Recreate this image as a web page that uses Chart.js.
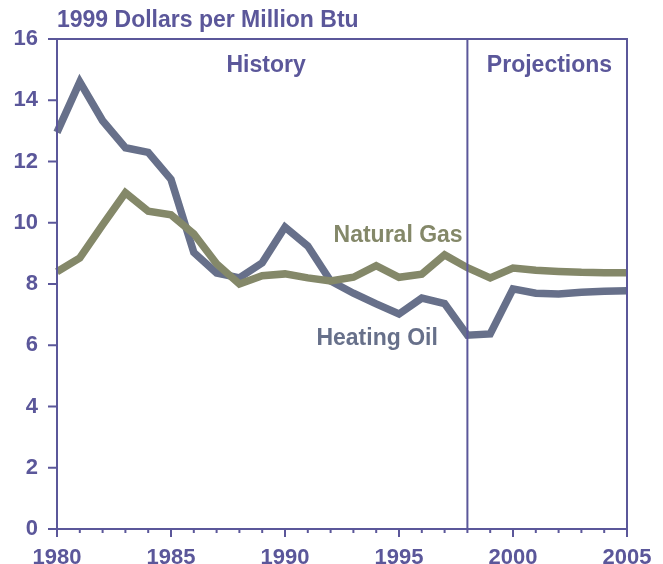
<!DOCTYPE html>
<html>
<head>
<meta charset="utf-8">
<script src="https://cdn.jsdelivr.net/npm/chart.js@4/dist/chart.umd.min.js"></script>
<style>
html,body{margin:0;padding:0;background:#fff;}
#wrap{width:663px;height:564px;position:relative;}
</style>
</head>
<body>
<div id="wrap"><canvas id="c" width="663" height="564"></canvas></div>
<script>
const years = [1980,1981,1982,1983,1984,1985,1986,1987,1988,1989,1990,1991,1992,1993,1994,1995,1996,1997,1998,1999,2000,2001,2002,2003,2004,2005];
const heatingOil = [12.95,14.6,13.33,12.45,12.3,11.42,9.03,8.36,8.2,8.69,9.86,9.24,8.1,7.7,7.35,7.02,7.54,7.36,6.33,6.37,7.84,7.7,7.67,7.73,7.76,7.78];
const naturalGas = [8.4,8.85,9.93,10.98,10.38,10.26,9.64,8.66,8.0,8.27,8.33,8.2,8.1,8.22,8.6,8.22,8.32,8.95,8.53,8.2,8.52,8.45,8.41,8.38,8.37,8.37];
const yTicks = [0,2,4,6,8,10,12,14,16];
const xTickLabels = [1980,1985,1990,1995,2000,2005];
const dividerYear = 1998;
const unitLabel = "1999 Dollars per Million Btu";
const periodLabels = [{text:"History", x:1989.17, y:15.12}, {text:"Projections", x:2001.6, y:15.12}];
const seriesLabels = [{text:"Natural Gas", x:1994.96, y:9.57, color:"#848869"}, {text:"Heating Oil", x:1994.04, y:6.21, color:"#67708a"}];

const AX = "#5b579a";
const FONT = "'Liberation Sans', Arial, sans-serif";

const overlay = {
  id: 'overlay',
  afterDraw(chart) {
    const ctx = chart.ctx, xs = chart.scales.x, ys = chart.scales.y, a = chart.chartArea;
    ctx.save();
    ctx.strokeStyle = AX; ctx.lineWidth = 2;
    ctx.beginPath();
    ctx.moveTo(a.left, a.top); ctx.lineTo(a.right, a.top); ctx.lineTo(a.right, a.bottom);
    ctx.stroke();
    ctx.beginPath();
    ctx.moveTo(a.left, a.top); ctx.lineTo(a.left, a.bottom); ctx.lineTo(a.right, a.bottom);
    ctx.stroke();
    const dx = xs.getPixelForValue(dividerYear);
    ctx.beginPath(); ctx.moveTo(dx, a.top); ctx.lineTo(dx, a.bottom); ctx.stroke();
    for (let yr = years[0]; yr <= years[years.length-1]; yr++) {
      const px = xs.getPixelForValue(yr);
      const len = (yr % 5 === 0) ? 8 : 4;
      ctx.beginPath(); ctx.moveTo(px, a.bottom); ctx.lineTo(px, a.bottom + len); ctx.stroke();
    }
    yTicks.forEach(v => {
      const py = ys.getPixelForValue(v);
      ctx.beginPath(); ctx.moveTo(a.left - 9, py); ctx.lineTo(a.left, py); ctx.stroke();
    });
    ctx.fillStyle = AX;
    ctx.font = "bold 22px " + FONT;
    ctx.textAlign = 'center'; ctx.textBaseline = 'alphabetic';
    xTickLabels.forEach(v => ctx.fillText(String(v), xs.getPixelForValue(v), 564));
    ctx.font = "bold 23px " + FONT;
    ctx.textAlign = 'left'; ctx.textBaseline = 'alphabetic';
    ctx.fillText(unitLabel, a.left, 27);
    ctx.textAlign = 'center'; ctx.textBaseline = 'middle';
    periodLabels.forEach(l => ctx.fillText(l.text, xs.getPixelForValue(l.x), ys.getPixelForValue(l.y)));
    seriesLabels.forEach(l => {
      ctx.fillStyle = l.color;
      ctx.fillText(l.text, xs.getPixelForValue(l.x), ys.getPixelForValue(l.y));
    });
    ctx.restore();
  }
};

new Chart(document.getElementById('c'), {
  type: 'line',
  data: {
    datasets: [
      {label:'Natural Gas', data: years.map((y,i)=>({x:y, y:naturalGas[i]})), borderColor:'#848869', borderWidth:7.5, pointRadius:0, tension:0, borderJoinStyle:'miter', borderCapStyle:'butt'},
      {label:'Heating Oil', data: years.map((y,i)=>({x:y, y:heatingOil[i]})), borderColor:'#67708a', borderWidth:7.5, pointRadius:0, tension:0, borderJoinStyle:'miter', borderCapStyle:'butt'}
    ]
  },
  options: {
    responsive: false,
    animation: false,
    clip: false,
    layout: {padding: {top: 39, right: 36, left: 0, bottom: 0}},
    plugins: {legend: {display:false}, tooltip: {enabled:false}, title:{display:false}},
    scales: {
      x: {
        type: 'linear', min: 1980, max: 2005,
        border: {display:false},
        grid: {display:false, drawTicks:false},
        ticks: {display:false, stepSize: 5},
        afterFit: s => { s.height = 35; }
      },
      y: {
        min: 0, max: 16,
        border: {display:false},
        grid: {display:false, drawTicks:false},
        ticks: {
          stepSize: 2, color: AX, padding: 19,
          font: {family: FONT, size: 22, weight: 'bold'},
          callback: v => yTicks.includes(v) ? String(v) : ''
        },
        afterFit: s => { s.width = 57; }
      }
    }
  },
  plugins: [overlay]
});
</script>
</body>
</html>
